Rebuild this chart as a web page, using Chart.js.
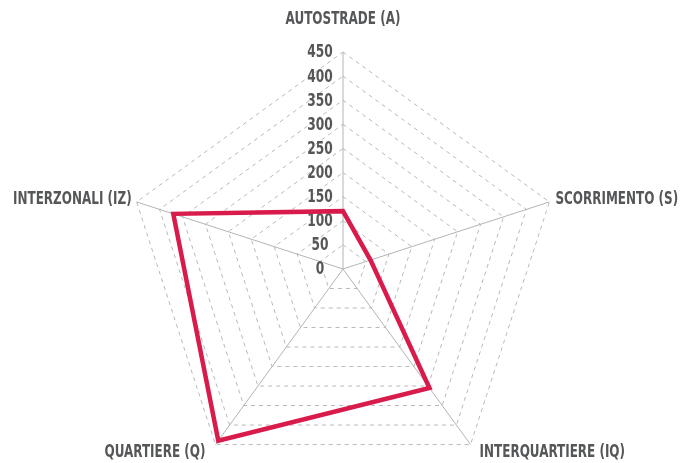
<!DOCTYPE html>
<html>
<head>
<meta charset="utf-8">
<script src="https://cdn.jsdelivr.net/npm/chart.js@4"></script>
<style>
  html, body { margin: 0; padding: 0; background: #fff; width: 687px; height: 463px; overflow: hidden; }
  #wrap { width: 687px; height: 463px; overflow: hidden; }
  canvas { display: block; }
</style>
</head>
<body>
<!-- canvas is a bit taller than the window: the plot's bottom corners sit right at the edge -->
<div id="wrap"><canvas id="radar" width="687" height="486"></canvas></div>
<script>
// categorie stradali, in senso orario dall'alto
const CATEGORIES = ["AUTOSTRADE (A)", "SCORRIMENTO (S)", "INTERQUARTIERE (IQ)", "QUARTIERE (Q)", "INTERZONALI (IZ)"];
const VALUES = [120, 60, 305, 440, 370];
const SCALE_MIN = 0;
const SCALE_MAX = 450;
const SCALE_STEP = 50;

const FONT = "'DejaVu Sans Condensed', 'DejaVu Sans', sans-serif";
const TEXT = "#555658";
const RED = "#d81b4a";

// where each category label sits relative to its outer vertex
const LABEL_ANCHOR = [
  { dx: 0, dy: -33, align: "center" },
  { dx: 6, dy: -3, align: "left" },
  { dx: 9, dy: 8, align: "left" },
  { dx: -10, dy: 8, align: "right" },
  { dx: -5, dy: -3, align: "right" },
];

// squeeze text horizontally, the original uses a condensed face
function narrowText(ctx, text, x, y, align, squeeze) {
  ctx.save();
  ctx.translate(x, y);
  ctx.scale(squeeze, 1);
  ctx.textAlign = align;
  ctx.fillText(text, 0, 0);
  ctx.restore();
}

const labelsPlugin = {
  id: "labelsPlugin",
  beforeDatasetsDraw(chart) {
    const s = chart.scales.r, ctx = chart.ctx;
    ctx.save();
    ctx.fillStyle = TEXT;
    ctx.textBaseline = "middle";

    // tick values, left of the vertical axis ("0" included)
    ctx.font = `bold 17px ${FONT}`;
    s.ticks.forEach((t) => {
      const d = s.getDistanceFromCenterForValue(t.value);
      narrowText(ctx, t.label, s.xCenter - 23, s.yCenter - d + 1, "center", 0.8);
    });

    // category names
    ctx.font = `bold 18px ${FONT}`;
    s._pointLabels.forEach((label, i) => {
      const p = s.getPointPosition(i, s.drawingArea);
      const a = LABEL_ANCHOR[i];
      narrowText(ctx, label, p.x + a.dx, p.y + a.dy, a.align, 0.74);
    });
    ctx.restore();
  },
};

new Chart(document.getElementById("radar"), {
  type: "radar",
  data: {
    labels: CATEGORIES,
    datasets: [{
      data: VALUES,
      borderColor: RED,
      borderWidth: 4.5,
      borderJoinStyle: "miter",
      fill: false,
      pointRadius: 0,
      pointHoverRadius: 0,
    }],
  },
  options: {
    responsive: false,
    devicePixelRatio: 1,
    animation: false,
    // chart area 434px tall -> radius 217, centre at y=269
    layout: { padding: { top: 52, bottom: 0, left: 0, right: 0 } },
    plugins: { legend: { display: false }, tooltip: { enabled: false } },
    scales: {
      r: {
        min: SCALE_MIN,
        max: SCALE_MAX,
        ticks: { stepSize: SCALE_STEP, display: false },
        grid: { color: "#b9b9b9", lineWidth: 1 },
        border: { dash: [4, 4] },
        angleLines: { color: "#b4b4b4", lineWidth: 1 },
        pointLabels: { display: false },
      },
    },
  },
  plugins: [labelsPlugin],
});
</script>
</body>
</html>
